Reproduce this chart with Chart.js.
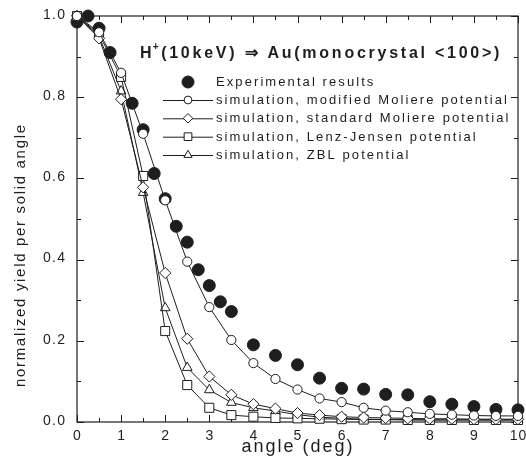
<!DOCTYPE html>
<html><head><meta charset="utf-8">
<script src="https://cdn.jsdelivr.net/npm/chart.js@4.4.1/dist/chart.umd.min.js"></script>
<style>html,body{margin:0;padding:0;background:#fff}#wrap{width:526px;height:459px}</style>
</head><body><div id="wrap"><canvas id="c" width="526" height="459"></canvas></div>
<script>
// ---- data ----
const titleMain = 'H';
const titleSup = '+';
const titleRest = '(10keV) \u21D2 Au(monocrystal <100>)';
const xAxisTitle = 'angle (deg)';
const yAxisTitle = 'normalized yield per solid angle';
const xTickValues = [0,1,2,3,4,5,6,7,8,9,10];
const xTickLabels = ['0','1','2','3','4','5','6','7','8','9','10'];
const yTickValues = [0,0.2,0.4,0.6,0.8,1.0];
const yTickLabels = ['0.0','0.2','0.4','0.6','0.8','1.0'];
const seriesNames = ['Experimental results','simulation, modified Moliere potential','simulation, standard Moliere potential','simulation, Lenz-Jensen potential','simulation, ZBL potential'];

const xExp = [0,0.25,0.5,0.75,1.25,1.5,1.75,2.0,2.25,2.5,2.75,3.0,3.25,3.5,4.0,4.5,5.0,5.5,6.0,6.5,7.0,7.5,8.0,8.5,9.0,9.5,10];
const yExp = [0.985,1.0,0.97,0.91,0.785,0.72,0.612,0.55,0.482,0.443,0.375,0.336,0.296,0.272,0.19,0.164,0.141,0.108,0.083,0.081,0.068,0.067,0.05,0.044,0.038,0.031,0.03];

const xSim = [0,0.5,1,1.5,2,2.5,3,3.5,4,4.5,5,5.5,6,6.5,7,7.5,8,8.5,9,9.5,10];
const yModMoliere = [1.0,0.96,0.86,0.71,0.546,0.395,0.283,0.202,0.145,0.106,0.08,0.058,0.049,0.035,0.028,0.024,0.02,0.018,0.016,0.015,0.015];
const yStdMoliere = [1.0,0.945,0.795,0.578,0.367,0.205,0.112,0.067,0.044,0.033,0.022,0.017,0.013,0.011,0.01,0.009,0.008,0.008,0.007,0.007,0.007];
const yLenzJensen = [1.0,0.955,0.85,0.606,0.224,0.091,0.035,0.017,0.013,0.01,0.009,0.008,0.007,0.006,0.006,0.005,0.005,0.005,0.005,0.005,0.005];
const yZBL = [1.0,0.95,0.815,0.565,0.281,0.134,0.079,0.048,0.035,0.027,0.018,0.012,0.009,0.007,0.006,0.006,0.005,0.005,0.005,0.005,0.005];

// ---- chart ----
const FONT = '"Liberation Sans", Arial, Helvetica, sans-serif';
const INK = '#1e1e1e';
const pts = (xs, ys) => xs.map((x, i) => ({x, y: ys[i]}));

const styles = [
  {pointStyle:'circle', radius:6, fill:INK, line:false},
  {pointStyle:'circle', radius:4.6, fill:'#fff', line:true},
  {pointStyle:'rectRot', radius:5.6, fill:'#fff', line:true},
  {pointStyle:'rect', radius:6.4, fill:'#fff', line:true},
  {pointStyle:'triangle', radius:5.6, fill:'#fff', line:true}
];
const seriesY = [yExp, yModMoliere, yStdMoliere, yLenzJensen, yZBL];
const datasets = seriesY.map((ys, i) => ({
  label: seriesNames[i],
  data: pts(i === 0 ? xExp : xSim, ys),
  showLine: styles[i].line,
  borderColor: INK,
  borderWidth: 1,
  pointStyle: styles[i].pointStyle,
  pointRadius: styles[i].radius,
  pointBackgroundColor: styles[i].fill,
  pointBorderColor: INK,
  pointBorderWidth: 1,
  clip: false,
  order: i === 0 ? 10 : i
}));

function spacedText(ctx, text, x, y, font, spacing, align) {
  ctx.save();
  ctx.font = font;
  ctx.letterSpacing = spacing + 'px';
  const w = ctx.measureText(text).width;
  let sx = x;
  if (align === 'center') sx = x - (w - spacing) / 2;
  else if (align === 'right') sx = x - (w - spacing);
  ctx.textAlign = 'left';
  ctx.fillText(text, sx, y);
  ctx.restore();
  return w;
}
function fitSpacing(ctx, text, font, target) {
  ctx.save(); ctx.font = font; ctx.letterSpacing = '0px';
  const w0 = ctx.measureText(text).width; ctx.restore();
  return Math.max(0, (target - w0) / Math.max(1, text.length - 1));
}

const decor = {
  id: 'decor',
  beforeDatasetsDraw(chart) {
    const {ctx, chartArea: a, scales: {x, y}} = chart;
    ctx.save();
    ctx.strokeStyle = INK;
    ctx.lineWidth = 1.2;
    ctx.strokeRect(a.left, a.top, a.right - a.left, a.bottom - a.top);
    ctx.lineWidth = 1;
    ctx.beginPath();
    for (let v = 0; v <= 10.001; v += 0.5) {
      const px = Math.round(x.getPixelForValue(v)) + 0.5;
      const L = Math.abs(v - Math.round(v)) < 1e-6 ? 7 : 4;
      ctx.moveTo(px, a.bottom); ctx.lineTo(px, a.bottom - L);
      ctx.moveTo(px, a.top); ctx.lineTo(px, a.top + L);
    }
    for (let k = 0; k <= 10; k++) {
      const v = k / 10;
      const py = Math.round(y.getPixelForValue(v)) + 0.5;
      const L = k % 2 === 0 ? 7 : 4;
      ctx.moveTo(a.left, py); ctx.lineTo(a.left + L, py);
      ctx.moveTo(a.right, py); ctx.lineTo(a.right - L, py);
    }
    ctx.stroke();
    ctx.restore();
  },
  afterDraw(chart) {
    const {ctx, chartArea: a, scales: {x, y}} = chart;
    ctx.save();
    ctx.fillStyle = INK;
    ctx.textBaseline = 'middle';
    // tick labels
    xTickValues.forEach((v, i) => spacedText(ctx, xTickLabels[i], x.getPixelForValue(v), 436, '14px ' + FONT, 1, 'center'));
    yTickValues.forEach((v, i) => spacedText(ctx, yTickLabels[i], 65, y.getPixelForValue(v) - 1, '14px ' + FONT, 1.3, 'right'));
    // x title
    ctx.textBaseline = 'alphabetic';
    const xf = '18px ' + FONT;
    spacedText(ctx, xAxisTitle, 297, 452, xf, fitSpacing(ctx, xAxisTitle, xf, 111), 'center');
    // y title
    ctx.save();
    ctx.translate(25, 256);
    ctx.rotate(-Math.PI / 2);
    const yf = '15px ' + FONT;
    spacedText(ctx, yAxisTitle, 0, 0, yf, fitSpacing(ctx, yAxisTitle, yf, 262), 'center');
    ctx.restore();
    // title
    const tf = 'bold 16px ' + FONT;
    const sf = 'bold 10px ' + FONT;
    let tx = 140;
    const tSp = 2.75;
    tx += spacedText(ctx, titleMain, tx, 58, tf, tSp, 'left');
    tx += spacedText(ctx, titleSup, tx - 1.5, 50, sf, 1, 'left');
    spacedText(ctx, titleRest, tx, 58, tf, tSp, 'left');
    // legend
    const rowsY = [82, 100, 118.3, 136.7, 155];
    const lf = '13px ' + FONT;
    const lsp = fitSpacing(ctx, seriesNames[1], lf, 291);
    ctx.textBaseline = 'middle';
    seriesNames.forEach((name, i) => {
      const ry = rowsY[i];
      ctx.strokeStyle = INK; ctx.lineWidth = 1;
      if (styles[i].line) {
        ctx.beginPath(); ctx.moveTo(163, ry + 0.5); ctx.lineTo(213, ry + 0.5); ctx.stroke();
      }
      ctx.save();
      ctx.fillStyle = styles[i].fill; ctx.strokeStyle = INK; ctx.lineWidth = 1;
      Chart.helpers.drawPoint(ctx, {pointStyle: styles[i].pointStyle, radius: i === 0 ? 6 : styles[i].radius * 0.85, rotation: 0, borderWidth: 1}, 188, ry);
      ctx.restore();
      ctx.fillStyle = INK;
      spacedText(ctx, name, 216, ry + 0.5, lf, lsp, 'left');
    });
    ctx.restore();
  }
};

new Chart(document.getElementById('c'), {
  type: 'scatter',
  data: {datasets},
  options: {
    responsive: false,
    animation: false,
    devicePixelRatio: 1,
    layout: {padding: {left: 0, right: 8, top: 16, bottom: 0}},
    plugins: {legend: {display: false}, tooltip: {enabled: false}, title: {display: false}},
    scales: {
      x: {type: 'linear', min: 0, max: 10, ticks: {display: false}, grid: {display: false}, border: {display: false},
          afterFit(s) { s.height = 37; }},
      y: {type: 'linear', min: 0, max: 1, ticks: {display: false}, grid: {display: false}, border: {display: false},
          afterFit(s) { s.width = 77; }}
    }
  },
  plugins: [decor]
});
</script></body></html>
